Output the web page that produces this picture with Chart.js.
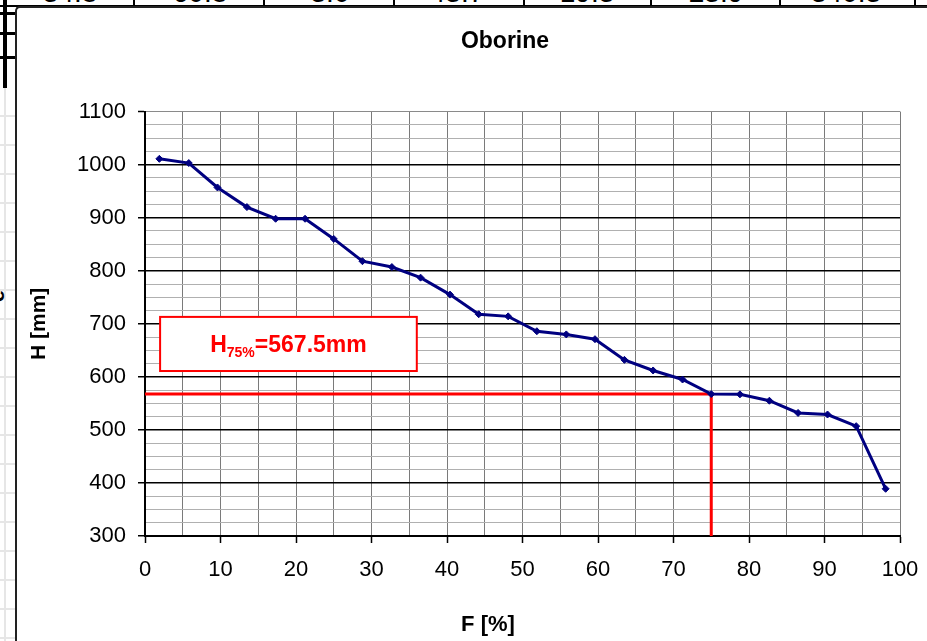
<!DOCTYPE html>
<html>
<head>
<meta charset="utf-8">
<title>Oborine</title>
<script src="https://cdn.jsdelivr.net/npm/chart.js@4.4.1/dist/chart.umd.min.js"></script>
<style>
  html, body { margin: 0; padding: 0; width: 927px; height: 641px; overflow: hidden; background: #fff; }
  body { position: relative; font-family: "Liberation Sans", Arial, sans-serif; }
  /* bits of the spreadsheet around the chart */
  .cells-top { position: absolute; left: 0; top: 0; width: 927px; height: 6px; overflow: hidden; }
  .cells-top span { position: absolute; top: -21px; font-size: 28px; line-height: 28px; transform: translateX(-50%); color: #000; }
  .vline { position: absolute; top: 0; width: 2px; height: 6px; background: #000; }
  .hline-top { position: absolute; left: 0; top: 5px; width: 927px; height: 2px; background: #000; }
  .left-thick { position: absolute; left: 3px; top: 0; width: 4px; height: 88px; background: #000; }
  .left-tick { position: absolute; left: 0; width: 16px; height: 3px; background: #000; }
  .left-grid { position: absolute; left: 0; top: 88px; width: 15px; height: 553px;
    background: repeating-linear-gradient(to bottom, transparent 0, transparent 27px, #e6e6e6 27px, #e6e6e6 29px); }
  .left-grid-v { position: absolute; top: 88px; width: 2px; height: 553px; background: #e6e6e6; }
  .left-e { position: absolute; left: -9px; top: 283px; font-weight: bold; font-size: 22px; transform: rotate(-90deg); }
  .frame { position: absolute; left: 15px; top: 6px; width: 1000px; height: 700px;
    border-left: 2px solid #222; border-top: 2px solid #222; border-top-left-radius: 5px; background: #fff; }
  .frame canvas { position: absolute; left: 0; top: 0; }
</style>
</head>
<body>
<div class="left-grid"></div>
<div class="left-grid-v" style="left:4px"></div>
<div class="left-e">e</div>
<div class="left-thick"></div>
<div class="left-tick" style="top:12px"></div>
<div class="left-tick" style="top:32px"></div>
<div class="left-tick" style="top:56px"></div>
<div class="cells-top" id="cellsTop"></div>
<div class="hline-top"></div>
<div class="frame"><canvas id="oborineChart" width="976" height="633"></canvas></div>

<script>
// values
const F = [1.9, 5.8, 9.6, 13.5, 17.3, 21.2, 25.0, 28.8, 32.7, 36.5, 40.4, 44.2, 48.1,
           51.9, 55.8, 59.6, 63.5, 67.3, 71.2, 75.0, 78.8, 82.7, 86.5, 90.4, 94.2, 98.1];
const H = [1011, 1003, 957, 920, 898, 898, 860, 818, 807, 787, 755, 718, 714,
           686, 680, 671, 632, 612, 595, 567.5, 567, 555, 532, 529, 507, 389];
const F75 = 75;
const H75 = 567.5;
// table row above the chart (only its bottom edge shows)
const cellValues = ["34.8", "60.8", "3.0", "43.7", "19.3", "23.9", "340.3"];
const cellCenters = [70, 200, 330, 457, 587, 716, 846];
const cellDividers = [133, 263, 393, 523, 650, 779, 914];

// label box, in data units
const BOX_F = [2, 36];
const BOX_H = [713, 611];

const NAVY = "#000080";
const RED = "#ff0000";
const FONT = '"Liberation Sans", Arial, sans-serif';

const top_ = document.getElementById("cellsTop");
cellValues.forEach((v, i) => {
  const s = document.createElement("span");
  s.textContent = v;
  s.style.left = cellCenters[i] + "px";
  top_.appendChild(s);
});
cellDividers.forEach((x) => {
  const d = document.createElement("div");
  d.className = "vline";
  d.style.left = x + "px";
  top_.appendChild(d);
});

// red box with the H75% label
const labelBox = {
  id: "labelBox",
  beforeDatasetsDraw(chart) {
    const { ctx, scales: { x, y } } = chart;
    const l = x.getPixelForValue(BOX_F[0]);
    const r = x.getPixelForValue(BOX_F[1]);
    const t = y.getPixelForValue(BOX_H[0]);
    const b = y.getPixelForValue(BOX_H[1]);
    ctx.save();
    ctx.fillStyle = "#fff";
    ctx.fillRect(l, t, r - l, b - t);
    ctx.strokeStyle = RED;
    ctx.lineWidth = 2;
    ctx.strokeRect(l, t, r - l, b - t);

    const big = "bold 23px " + FONT;
    const small = "bold 14px " + FONT;
    const sub = F75 + "%";
    const rest = "=" + H75 + "mm";
    ctx.font = big;
    const wH = ctx.measureText("H").width;
    const wRest = ctx.measureText(rest).width;
    ctx.font = small;
    const wSub = ctx.measureText(sub).width;
    const sx = (l + r) / 2 - (wH + wSub + wRest) / 2;
    const base = (t + b) / 2 + 8;
    ctx.fillStyle = RED;
    ctx.textBaseline = "alphabetic";
    ctx.textAlign = "left";
    ctx.font = big;
    ctx.fillText("H", sx, base);
    ctx.font = small;
    ctx.fillText(sub, sx + wH, base + 5);
    ctx.font = big;
    ctx.fillText(rest, sx + wH + wSub, base);
    ctx.restore();
  },
};

// x axis title sits left of the plot centre, like the original
const xTitle = {
  id: "xTitle",
  afterDraw(chart) {
    const ctx = chart.ctx;
    ctx.save();
    ctx.font = "bold 22px " + FONT;
    ctx.fillStyle = "#000";
    ctx.textAlign = "center";
    ctx.textBaseline = "middle";
    ctx.fillText("F [%]", chart.width / 2 - 17, chart.height - 16);
    ctx.restore();
  },
};

new Chart(document.getElementById("oborineChart"), {
  type: "line",
  data: {
    datasets: [
      {
        label: "Oborine",
        data: F.map((f, i) => ({ x: f, y: H[i] })),
        borderColor: NAVY,
        backgroundColor: NAVY,
        borderWidth: 3,
        pointStyle: "rectRot",
        pointRadius: 3.5,
        pointBorderWidth: 1,
        pointBackgroundColor: NAVY,
        pointBorderColor: NAVY,
        tension: 0,
        order: 1,
      },
      {
        label: "H75",
        data: [
          { x: 0, y: H75 },
          { x: F75, y: H75 },
          { x: F75, y: 300 },
        ],
        borderColor: RED,
        borderWidth: 3,
        pointRadius: 0,
        tension: 0,
        order: 2,
      },
    ],
  },
  options: {
    responsive: false,
    animation: false,
    devicePixelRatio: 1,
    layout: { padding: 0 },
    plugins: {
      legend: { display: false },
      tooltip: { enabled: false },
      title: {
        display: true,
        text: "Oborine",
        color: "#000",
        font: { family: FONT, size: 23, weight: "bold" },
        padding: { top: 20, bottom: 56 },
      },
    },
    scales: {
      x: {
        type: "linear",
        min: 0,
        max: 100,
        afterFit: (s) => { s.height = 105; },
        ticks: {
          stepSize: 5,
          autoSkip: false,
          maxRotation: 0,
          padding: 14,
          color: "#000",
          font: { family: FONT, size: 22 },
          callback: (v) => (v % 10 === 0 ? v : ""),
        },
        grid: {
          color: "#7a7a7a",
          lineWidth: 1,
          tickLength: 7,
          tickWidth: 1.5,
          tickColor: (c) => (c.tick && c.tick.value % 10 === 0 ? "#000" : "rgba(0,0,0,0)"),
        },
        border: { color: "#000", width: 2 },
      },
      y: {
        type: "linear",
        min: 300,
        max: 1100,
        afterFit: (s) => { s.width = 128; },
        ticks: {
          stepSize: 25,
          autoSkip: false,
          padding: 12,
          color: "#000",
          font: { family: FONT, size: 22 },
          callback: (v) => (v % 100 === 0 ? v : ""),
        },
        grid: {
          color: (c) => {
            const v = c.tick ? c.tick.value : 0;
            if (v === 1100) return "#8a8a8a";
            return v % 100 === 0 ? "#000" : "#b0b0b0";
          },
          lineWidth: (c) => (c.tick && c.tick.value % 100 === 0 && c.tick.value !== 1100 ? 1.5 : 1),
          tickLength: 7,
          tickWidth: 1.5,
          tickColor: (c) => (c.tick && c.tick.value % 100 === 0 ? "#000" : "rgba(0,0,0,0)"),
        },
        border: { color: "#000", width: 2 },
        title: {
          display: true,
          text: "H [mm]",
          color: "#000",
          font: { family: FONT, size: 21, weight: "bold" },
          padding: { top: 10, bottom: 0 },
        },
      },
      // keeps the right margin so the plot ends where the original does
      yRight: {
        position: "right",
        display: true,
        afterFit: (s) => { s.width = 93; },
        ticks: { display: false },
        grid: { drawOnChartArea: false, drawTicks: false },
        border: { display: false },
      },
    },
  },
  plugins: [labelBox, xTitle],
});
</script>
</body>
</html>
